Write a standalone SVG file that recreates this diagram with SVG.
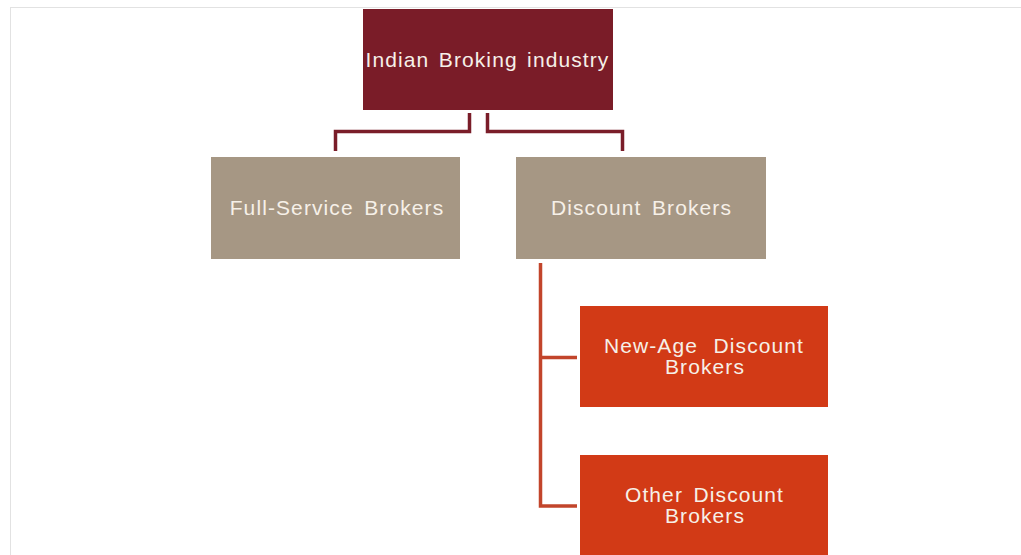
<svg xmlns="http://www.w3.org/2000/svg" width="1021" height="555" viewBox="0 0 1021 555">
<style>
.t{font-family:"Liberation Sans",Arial,sans-serif;font-size:21px;fill:#F6F0E8;text-anchor:middle;dominant-baseline:central;letter-spacing:1.1px;word-spacing:3.6px}
.c1{fill:none;stroke:#7A1D29;stroke-width:3.5}
.c2{fill:none;stroke:#C2452B;stroke-width:3.5}
</style>
<rect width="1021" height="555" fill="#fff"/>
<rect x="10.5" y="7.5" width="1020" height="560" fill="none" stroke="#E2E2E2" stroke-width="1"/>
<g id="connectors">
<path class="c1" d="M469.5 113 V131.5 H335.5 V151"/>
<path class="c1" d="M487.5 113 V131.5 H622.5 V151"/>
<path class="c2" d="M540.5 263 V506 H577"/>
<path class="c2" d="M540.5 357.5 H577"/>
</g>
<g id="n-root"><rect x="363" y="9" width="250" height="101" fill="#7A1C28"/><text class="t" x="487.5" y="59" style="word-spacing:2.5px">Indian Broking industry</text></g>
<g id="n-full"><rect x="211" y="157" width="249" height="102" fill="#A69784"/><text class="t" x="337" y="207">Full-Service Brokers</text></g>
<g id="n-discount"><rect x="516" y="157" width="250" height="102" fill="#A69784"/><text class="t" x="641.5" y="207">Discount Brokers</text></g>
<g id="n-newage"><rect x="580" y="306" width="248" height="101" fill="#D23A16"/><text class="t" x="704" y="345" style="word-spacing:8.6px">New-Age Discount</text><text class="t" x="705" y="366">Brokers</text></g>
<g id="n-other"><rect x="580" y="455" width="248" height="100" fill="#D23A16"/><text class="t" x="704.5" y="494">Other Discount</text><text class="t" x="705" y="515">Brokers</text></g>
</svg>
